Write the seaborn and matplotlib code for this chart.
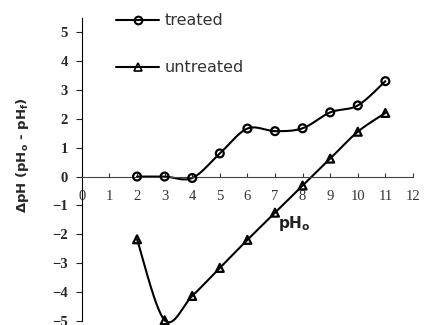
import numpy as np
import pandas as pd
import matplotlib
matplotlib.use("Agg")
import matplotlib.pyplot as plt
import seaborn as sns
from matplotlib.lines import Line2D

# ---- data ----
ph0 = [2, 3, 4, 5, 6, 7, 8, 9, 10, 11]
treated = [0.0, 0.0, -0.05, 0.8, 1.66, 1.57, 1.67, 2.22, 2.46, 3.3]
untreated = [-2.17, -4.97, -4.13, -3.16, -2.19, -1.25, -0.31, 0.62, 1.55, 2.2]
xticks = list(range(0, 13))
yticks = [-5, -4, -3, -2, -1, 0, 1, 2, 3, 4, 5]
series_names = ["treated", "untreated"]


def smooth(x, y, n=30):
    """Catmull-Rom style smoothing (like spreadsheet smoothed lines)."""
    x = np.asarray(x, float)
    y = np.asarray(y, float)
    px = np.concatenate([[x[0]], x, [x[-1]]])
    py = np.concatenate([[y[0]], y, [y[-1]]])
    xs, ys = [], []
    for i in range(1, len(px) - 2):
        p0 = np.array([px[i - 1], py[i - 1]])
        p1 = np.array([px[i], py[i]])
        p2 = np.array([px[i + 1], py[i + 1]])
        p3 = np.array([px[i + 2], py[i + 2]])
        c1 = p1 + (p2 - p0) / 6.0
        c2 = p2 - (p3 - p1) / 6.0
        t = np.linspace(0, 1, n)[:, None]
        pts = ((1 - t) ** 3) * p1 + 3 * ((1 - t) ** 2) * t * c1 + 3 * (1 - t) * t ** 2 * c2 + t ** 3 * p2
        xs.extend(pts[:, 0])
        ys.extend(pts[:, 1])
    return np.array(xs), np.array(ys)


sns.set_style("ticks")
fig = plt.figure(figsize=(4.24, 3.25), dpi=100)
ax = fig.add_axes([0.193, 0.012, 0.781, 0.934])

for vals, mk, name in [(treated, "o", series_names[0]), (untreated, "^", series_names[1])]:
    sx, sy = smooth(ph0, vals)
    df = pd.DataFrame({"x": sx, "y": sy})
    sns.lineplot(data=df, x="x", y="y", sort=False, color="black", lw=1.5, ax=ax,
                 estimator=None, clip_on=False)
    dm = pd.DataFrame({"x": ph0, "y": vals})
    sns.scatterplot(data=dm, x="x", y="y", marker=mk, s=32, facecolor="none",
                    edgecolor="black", linewidth=1.6, ax=ax, zorder=5, clip_on=False)

ax.set_xlim(0, 12)
ax.set_ylim(-5, 5.5)
ax.spines["top"].set_visible(False)
ax.spines["right"].set_visible(False)
ax.spines["bottom"].set_position(("data", 0))
ax.spines["left"].set_position(("data", 0))
ax.spines["bottom"].set_color("#444444")
ax.spines["left"].set_color("black")
ax.set_xticks(xticks)
ax.set_yticks(yticks)
ax.tick_params(axis="x", direction="in", length=3, pad=10, labelsize=10.5, colors="#333333")
ax.tick_params(axis="y", direction="out", length=4, pad=6, labelsize=10.5)
for lab in ax.get_xticklabels():
    lab.set_fontfamily("Liberation Serif")
for lab in ax.get_yticklabels():
    lab.set_fontfamily("Liberation Serif")
    lab.set_fontweight("bold")
ax.set_xlabel("")
ax.set_ylabel("")

ax.text(7.12, -1.63, r"pH$_\mathregular{o}$", ha="left", va="center", fontsize=11,
        fontweight="bold", family="DejaVu Sans", color="#222222")
fig.text(0.052, 0.523, r"ΔpH (pH$_\mathregular{o}$ - pH$_\mathregular{f}$)", rotation=90,
         ha="center", va="center", fontsize=9.5, fontweight="bold", family="DejaVu Sans")

handles = [
    Line2D([], [], color="black", lw=1.5, marker="o", mfc="none", mec="black", ms=5.5, mew=1.5),
    Line2D([], [], color="black", lw=1.5, marker="^", mfc="none", mec="black", ms=5.5, mew=1.2),
]
leg = ax.legend(handles, series_names, loc="upper left", bbox_to_anchor=(0.085, 1.035),
                frameon=False, fontsize=11.5, handlelength=2.7, labelspacing=2.0,
                handletextpad=0.35, borderaxespad=0)
for t in leg.get_texts():
    t.set_color("#333333")

fig.savefig("out.png", dpi=100)
